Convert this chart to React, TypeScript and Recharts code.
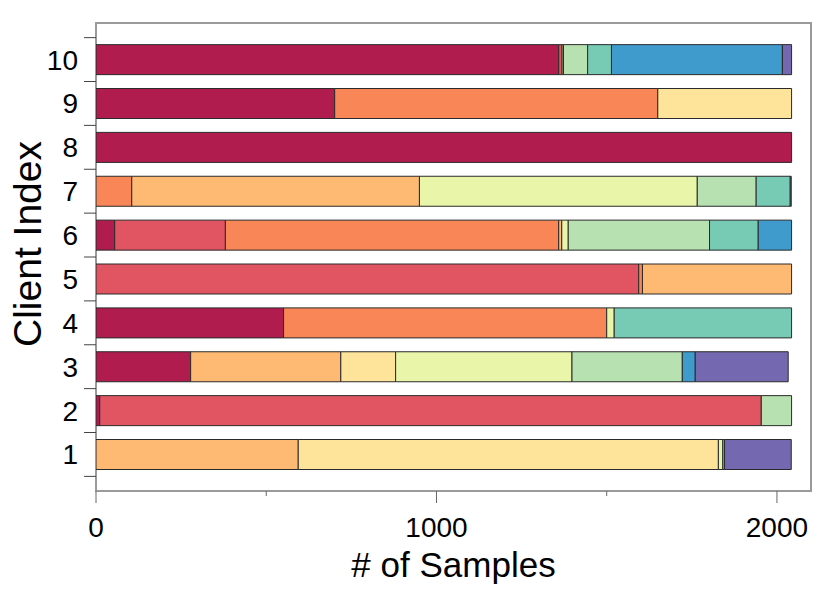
import type { ReactElement } from 'react'
import { BarChart, Bar, XAxis, YAxis, ReferenceArea } from 'recharts'

// clients 1..10, samples per class (class 0..9)
const clients = [1, 2, 3, 4, 5, 6, 7, 8, 9, 10]
const class0 = [0, 11, 278, 551, 0, 55, 0, 2043, 701, 1359]
const class1 = [0, 1943, 0, 0, 1594, 325, 0, 0, 0, 10]
const class2 = [0, 0, 0, 949, 11, 979, 105, 0, 949, 0]
const class3 = [594, 0, 441, 0, 438, 9, 845, 0, 0, 0]
const class4 = [1234, 0, 161, 0, 0, 0, 0, 0, 393, 0]
const class5 = [13, 0, 518, 22, 0, 19, 816, 0, 0, 4]
const class6 = [0, 89, 324, 0, 0, 415, 173, 0, 0, 71]
const class7 = [5, 0, 0, 521, 0, 143, 100, 0, 0, 70]
const class8 = [0, 0, 38, 0, 0, 98, 3, 0, 0, 502]
const class9 = [196, 0, 273, 0, 0, 0, 0, 0, 0, 27]

const classes = [class0, class1, class2, class3, class4, class5, class6, class7, class8, class9]

const xTicks = [0, 500, 1000, 1500, 2000]

// Spectral palette, slightly washed out like the original
const COLORS = [
  '#b01c4e',
  '#e05561',
  '#f88656',
  '#feba73',
  '#fde49a',
  '#e9f5a8',
  '#b8e1b2',
  '#77cab4',
  '#3e9bcb',
  '#7468b1',
]

const FONT = '"Liberation Sans", Arial, Helvetica, sans-serif'
const X_MAX = 2100
const Y_MIN = 0.5 - 1 / 3
const Y_MAX = 10.5 + 1 / 3

const data = clients.map((client, i) => {
  const row: Record<string, number> = { client }
  classes.forEach((vals, c) => {
    row[`c${c}`] = vals[i]
  })
  return row
})

const XTick = ({ x, y, payload }: any) => {
  const major = payload.value % 1000 === 0
  return (
    <g>
      <line x1={x} x2={x} y1={y} y2={y + (major ? 12 : 5)} stroke="#666" strokeWidth={1} />
      {major && (
        <text x={x} y={y + 46} textAnchor="middle" fontSize={28} fontFamily={FONT} fill="#000">
          {payload.value}
        </text>
      )}
    </g>
  )
}

// label at each client, small marks half a step above (and below the first)
const YTick = ({ x, y, payload, height }: any) => {
  const step = height / (Y_MAX - Y_MIN)
  return (
    <g>
      <line x1={x - 12} x2={x} y1={y - step / 2} y2={y - step / 2} stroke="#444" strokeWidth={1} />
      {payload.value === clients[0] && (
        <line x1={x - 12} x2={x} y1={y + step / 2} y2={y + step / 2} stroke="#444" strokeWidth={1} />
      )}
      <text x={x - 18} y={y + 10} textAnchor="end" fontSize={28} fontFamily={FONT} fill="#000">
        {payload.value}
      </text>
    </g>
  )
}

const YTitle = ({ viewBox }: any) => {
  const cx = 41
  const cy = viewBox.y + viewBox.height / 2 - 13
  return (
    <text
      x={cx}
      y={cy}
      transform={`rotate(-90, ${cx}, ${cy})`}
      textAnchor="middle"
      fontSize={39}
      fontFamily={FONT}
      fill="#000"
    >
      Client Index
    </text>
  )
}

const XTitle = ({ viewBox }: any) => {
  const cx = viewBox.x + viewBox.width / 2
  return (
    <text x={cx} y={577} textAnchor="middle" fontSize={35} fontFamily={FONT} fill="#000">
      # of Samples
    </text>
  )
}

export default function App(): ReactElement {
  return (
    <div style={{ position: 'absolute', left: 0, top: 0, background: '#fff' }}>
      <BarChart
        width={830}
        height={600}
        data={data}
        layout="vertical"
        margin={{ top: 23, right: 19, left: 0, bottom: 0 }}
      >
        <XAxis
          type="number"
          domain={[0, X_MAX]}
          ticks={xTicks}
          interval={0}
          height={109}
          tickLine={false}
          axisLine={false}
          tickSize={0}
          tickMargin={0}
          tick={<XTick />}
          allowDataOverflow
          label={<XTitle />}
        />
        <YAxis
          type="number"
          dataKey="client"
          domain={[Y_MIN, Y_MAX]}
          ticks={clients}
          interval={0}
          reversed
          width={96}
          tickLine={false}
          axisLine={false}
          tickSize={0}
          tickMargin={0}
          tick={<YTick />}
          allowDataOverflow
          label={<YTitle />}
        />
        {COLORS.map((color, c) => (
          <Bar
            key={c}
            dataKey={`c${c}`}
            stackId="samples"
            fill={color}
            stroke="#2a2a2a"
            strokeWidth={1}
            barSize={30}
            isAnimationActive={false}
          />
        ))}
        <ReferenceArea
          x1={0}
          x2={X_MAX}
          y1={Y_MIN}
          y2={Y_MAX}
          fill="none"
          fillOpacity={0}
          stroke="#9a9a9a"
          strokeWidth={2}
          ifOverflow="visible"
        />
      </BarChart>
    </div>
  )
}
